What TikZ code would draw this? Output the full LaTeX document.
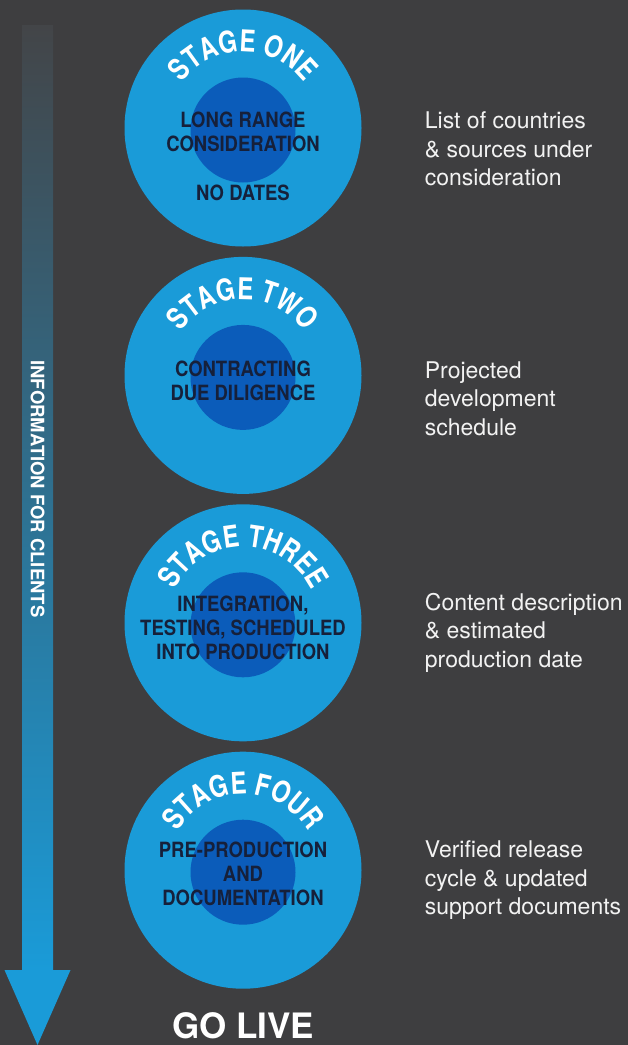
\documentclass[tikz,border=0pt]{standalone}
\usepackage{fontspec}
\setmainfont{TeX Gyre Heros}
\newfontfamily\narrowfont{TeX Gyre Heros}[FakeStretch=0.8]
\newfontfamily\corefont{TeX Gyre Heros}[FakeStretch=0.88]
\usetikzlibrary{positioning,decorations.text}

\definecolor{backdrop}{HTML}{3E3E40}
\definecolor{stageblue}{HTML}{1A9BD8}
\definecolor{coreblue}{HTML}{0B5CBA}
\definecolor{corenote}{HTML}{16203A}
\definecolor{sidenote}{HTML}{F2F2F2}
\definecolor{shafttop}{HTML}{434548}
\definecolor{shaftmid}{HTML}{4C7390}

\tikzset{
  stage/.style={circle, fill=stageblue, minimum size=237pt, inner sep=0pt},
  core/.style={circle, fill=coreblue, minimum size=105pt, inner sep=0pt},
  corelabel/.style={font=\corefont\bfseries\fontsize{21}{24}\selectfont, text=corenote, align=center, inner sep=0pt},
  sidelabel/.style={font=\fontsize{23}{28.5}\selectfont, text=sidenote, align=left, inner sep=0pt},
  stagetitle/.style={decorate, decoration={text along path, text align=center,
    text={|\narrowfont\bfseries\fontsize{30}{30}\selectfont\color{white}|#1}}},
}

\begin{document}
\begin{tikzpicture}[x=1pt, y=1pt]
  \fill[backdrop] (0,0) rectangle (628,-1045);
  \useasboundingbox (0,0) rectangle (628,-1045);

  % flow arrow
  \coordinate (flowtop) at (37.5,-25);
  \coordinate (flowfoot) at (37.5,-970);
  \shade[top color=shafttop, middle color=shaftmid, bottom color=stageblue]
    ([xshift=-15.5pt]flowtop) rectangle ([xshift=15.5pt]flowfoot);
  \fill[stageblue] ([xshift=-33pt]flowfoot) -- ([xshift=33pt]flowfoot) -- ([yshift=-75pt]flowfoot) -- cycle;
  \node[rotate=-90, font=\bfseries\fontsize{18.5}{18.5}\selectfont, text=white] (flowlabel) at (37.5,-489) {INFORMATION FOR CLIENTS};

  % stages
  \node[stage]                    (s1) at (243,-128) {};
  \node[stage, below=10pt of s1]  (s2) {};
  \node[stage, below=10pt of s2]  (s3) {};
  \node[stage, below=10pt of s3]  (s4) {};

  \node[core] (c1) at ([yshift=-2pt]s1.center) {};
  \node[core] (c2) at ([yshift=-2pt]s2.center) {};
  \node[core] (c3) at ([yshift=-2pt]s3.center) {};
  \node[core] (c4) at ([yshift=-2pt]s4.center) {};

  \path[stagetitle={STAGE ONE}]   ([shift={(180:76pt)}]s1.center) arc[start angle=180, end angle=0, radius=76pt];
  \path[stagetitle={STAGE TWO}]   ([shift={(180:76pt)}]s2.center) arc[start angle=180, end angle=0, radius=76pt];
  \path[stagetitle={STAGE THREE}] ([shift={(180:76pt)}]s3.center) arc[start angle=180, end angle=0, radius=76pt];
  \path[stagetitle={STAGE FOUR}]  ([shift={(180:76pt)}]s4.center) arc[start angle=180, end angle=0, radius=76pt];

  \node[corelabel] (t1) at ([yshift=-4pt]s1.center) {LONG RANGE\\CONSIDERATION};
  \node[corelabel] (t1b) at ([yshift=-65pt]s1.center) {NO DATES};
  \node[corelabel] (t2) at ([yshift=-5pt]s2.center) {CONTRACTING\\DUE DILIGENCE};
  \node[corelabel] (t3) at ([yshift=-5pt]s3.center) {INTEGRATION,\\TESTING, SCHEDULED\\INTO PRODUCTION};
  \node[corelabel] (t4) at ([yshift=-4pt]s4.center) {PRE-PRODUCTION\\AND\\DOCUMENTATION};

  % notes for clients
  \node[sidelabel, right=63pt of s1, yshift=-21pt] (n1) {List of countries\\\& sources under\\consideration};
  \node[sidelabel, right=63pt of s2, yshift=-23pt] (n2) {Projected\\development\\schedule};
  \node[sidelabel, right=63pt of s3, yshift=-10pt] (n3) {Content description\\\& estimated\\production date};
  \node[sidelabel, right=63pt of s4, yshift=-10pt] (n4) {Verified release\\cycle \& updated\\support documents};

  \node[font=\bfseries\fontsize{35}{35}\selectfont, text=white, inner sep=0pt] (golive) at (243,-1026) {GO LIVE};
\end{tikzpicture}
\end{document}
